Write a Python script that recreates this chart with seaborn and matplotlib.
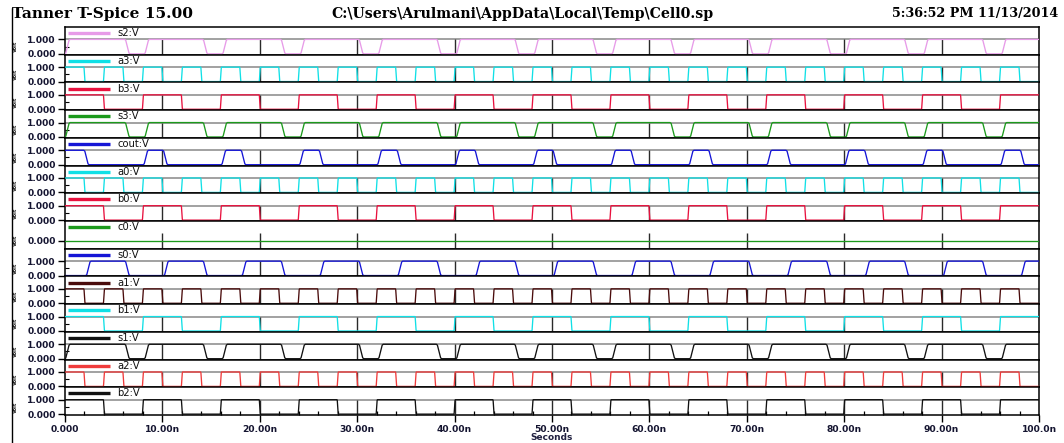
import matplotlib
matplotlib.use("Agg")
import matplotlib.pyplot as plt
from matplotlib.lines import Line2D
from matplotlib.transforms import blended_transform_factory
import pandas as pd
import seaborn as sns

# ---------------- data ----------------
title_left = "Tanner T-Spice 15.00"
title_mid = "C:\\Users\\Arulmani\\AppData\\Local\\Temp\\Cell0.sp"
title_right = "5:36:52 PM 11/13/2014"
x_label = "Seconds"
y_unit = "Volt"

signal_names = ["s2:V", "a3:V", "b3:V", "s3:V", "cout:V", "a0:V", "b0:V",
                "c0:V", "s0:V", "a1:V", "b1:V", "s1:V", "a2:V", "b2:V"]
signal_colors = ["#e79be8", "#10e0e6", "#e8123f", "#1c9a1c", "#1515d6", "#10e0e6",
                 "#e8123f", "#1c9a1c", "#1515d6", "#4a0c0c", "#10e0e6", "#111111",
                 "#ef3b3b", "#111111"]

x_ticks = [0, 10, 20, 30, 40, 50, 60, 70, 80, 90, 100]
x_tick_labels = ["0.000", "10.00n", "20.00n", "30.00n", "40.00n", "50.00n",
                 "60.00n", "70.00n", "80.00n", "90.00n", "100.0n"]
x_minor_ticks = [2, 4, 6, 8, 12, 14, 16, 18, 22, 24, 26, 28, 32, 34, 36, 38, 42, 44,
                 46, 48, 52, 54, 56, 58, 62, 64, 66, 68, 72, 74, 76, 78, 82, 84, 86,
                 88, 92, 94, 96, 98]

# transition times (ns)
a_edges = [2, 4, 6, 8, 10, 12, 14, 16, 18, 20, 22, 24, 26, 28, 30, 32, 34, 36, 38,
           40, 42, 44, 46, 48, 50, 52, 54, 56, 58, 60, 62, 64, 66, 68, 70, 72, 74,
           76, 78, 80, 82, 84, 86, 88, 90, 92, 94, 96, 98]
b_edges = [4, 8, 12, 16, 20, 24, 28, 32, 36, 40, 44, 48, 52, 56, 60, 64, 68, 72,
           76, 80, 84, 88, 92, 96]
s0_edges = [2.4, 6.4, 10.4, 14.4, 18.4, 22.4, 26.4, 30.4, 34.4, 38.4, 42.4, 46.4,
            50.4, 54.4, 58.4, 62.4, 66.4, 70.4, 74.4, 78.4, 82.4, 86.4, 90.4, 94.4,
            98.4]
cout_edges = [2.2, 8.3, 10.3, 16.3, 18.3, 24.3, 26.3, 32.3, 34.3, 40.3, 42.3, 48.3,
              50.3, 56.3, 58.3, 64.3, 66.3, 72.3, 74.3, 80.3, 82.3, 88.3, 90.3,
              96.3, 98.3]
s_edges = [0.25, 6.4, 8.4, 14.4, 16.4, 22.4, 24.4, 30.4, 32.4, 38.4, 40.4, 46.4,
           48.4, 54.4, 56.4, 62.4, 64.4, 70.4, 72.4, 78.4, 80.4, 86.4, 88.4, 94.4,
           96.4]
c0_edges = []

start_levels = [0, 1, 1, 0, 1, 1, 1, 0, 0, 1, 1, 0, 1, 1]
edge_lists = [s_edges, a_edges, b_edges, s_edges, cout_edges, a_edges, b_edges,
              c0_edges, s0_edges, a_edges, b_edges, s_edges, a_edges, b_edges]
is_output = [True, False, False, True, True, False, False, False, True, False,
             False, True, False, False]

# shape of one transition (fraction of ramp time, fraction of swing)
edge_shape_t = [-0.5, -0.3, -0.1, 0.1, 0.3, 0.5]
edge_shape_v = [0.0, 0.06, 0.35, 0.65, 0.94, 1.0]


def build_wave(start, edges, ramp, t_end=100.0):
    t, v, lvl = [0.0], [float(start)], float(start)
    for e in edges:
        new = 1.0 - lvl
        for ft, fv in zip(edge_shape_t, edge_shape_v):
            t.append(max(e + ft * ramp, 0.0))
            v.append(lvl + (new - lvl) * fv)
        lvl = new
    t.append(t_end)
    v.append(lvl)
    return t, v


frames = []
for name, st, ed, out in zip(signal_names, start_levels, edge_lists, is_output):
    t, v = build_wave(st, ed, 0.55 if out else 0.15)
    frames.append(pd.DataFrame({"time": t, "volt": v, "signal": name}))
df = pd.concat(frames, ignore_index=True)

# ---------------- figure ----------------
sns.set_theme(style="white")
plt.rcParams['font.family'] = ['DejaVu Sans']

W, H = 1064, 443
fig = plt.figure(figsize=(W / 100, H / 100), dpi=100)
L, R = 65 / W, 1039 / W
T, B = 1 - 27 / H, 1 - 415 / H
axes = fig.subplots(len(signal_names), 1, sharex=True,
                    gridspec_kw=dict(left=L, right=R, top=T, bottom=B, hspace=0))

tick_font = dict(fontsize=6.6, fontweight="bold", color="#141430")

for i, (ax, name, col) in enumerate(zip(axes, signal_names, signal_colors)):
    sub = df[df["signal"] == name]
    is_c0 = name == "c0:V"
    shift = 0.5 if is_c0 else 0.0
    lo, hi = -0.06 - shift, 1.86 - shift
    ax.set_xlim(0, 100)
    ax.set_ylim(lo, hi)
    ax.set_facecolor("white")
    # data-region grid
    if not is_c0:
        ax.axhline(1, color="#9a9a9a", lw=1.3, zorder=1)
    ax.vlines(x_ticks[1:-1], 0 - shift, 1 - shift, color="#2a2a2a", lw=1.0, zorder=1)
    sns.lineplot(data=sub, x="time", y="volt", ax=ax, color=col, lw=0.95,
                 estimator=None, sort=False, legend=False, zorder=3)
    ax.set_xlabel("")
    ax.set_ylabel("")
    for s in ax.spines.values():
        s.set_color("black")
        s.set_linewidth(1.1)
        s.set_visible(True)
    # header legend
    yh = (1.43 + 0.06) / 1.92
    ax.plot([0.003, 0.046], [yh, yh], transform=ax.transAxes, color=col, lw=2.4,
            solid_capstyle="butt", zorder=4)
    ax.text(0.054, yh, name, transform=ax.transAxes, fontsize=7.2, va="center",
            ha="left", color="#111111")
    # y ticks
    if is_c0:
        ax.set_yticks([0])
        ax.set_yticklabels(["0.000"], **tick_font)
    else:
        ax.set_yticks([0, 1])
        ax.set_yticklabels(["0.000", "1.000"], **tick_font)
        ax.set_yticks([0.5], minor=True)
    ax.tick_params(axis="y", which="major", direction="out", length=5, width=1,
                   color="black", left=True, pad=1.5)
    ax.tick_params(axis="y", which="minor", direction="in", length=3, width=0.8,
                   color="black", left=True)
    # unit label
    ax.text(15 / W, (0.5 + 0.06) / 1.92, y_unit, rotation=90, fontsize=3.6,
            fontweight="bold", va="center", ha="center", color="#222222",
            transform=blended_transform_factory(fig.transFigure, ax.transAxes))
    ax.set_xticks(x_ticks)
    if i < len(signal_names) - 1:
        ax.tick_params(axis="x", which="both", bottom=False, labelbottom=False)
    else:
        ax.set_xticks(x_minor_ticks, minor=True)
        ax.set_xticklabels(x_tick_labels, **tick_font)
        ax.tick_params(axis="x", which="major", direction="out", length=5, width=1,
                       color="black", bottom=True, pad=2)
        ax.tick_params(axis="x", which="minor", direction="in", length=3, width=0.9,
                       color="black", bottom=True)

fig.text((L + R) / 2, 1 - 437 / H, x_label, fontsize=6.5, fontweight="bold",
         ha="center", va="center", color="#202040")

title_font = dict(family="DejaVu Serif", fontweight="bold", color="black",
                  va="center")
fig.text(12 / W, 1 - 14 / H, title_left, ha="left", fontsize=11.1, **title_font)
fig.text(522 / W, 1 - 14 / H, title_mid, ha="center", fontsize=10.2, **title_font)
fig.text(1058 / W, 1 - 14 / H, title_right, ha="right", fontsize=9.2, **title_font)

fig.add_artist(Line2D([11.5 / W, 11.5 / W], [0, 1 - 8 / H], transform=fig.transFigure,
                      color="black", lw=1.0))

fig.savefig("out.png", dpi=100, facecolor="white")
